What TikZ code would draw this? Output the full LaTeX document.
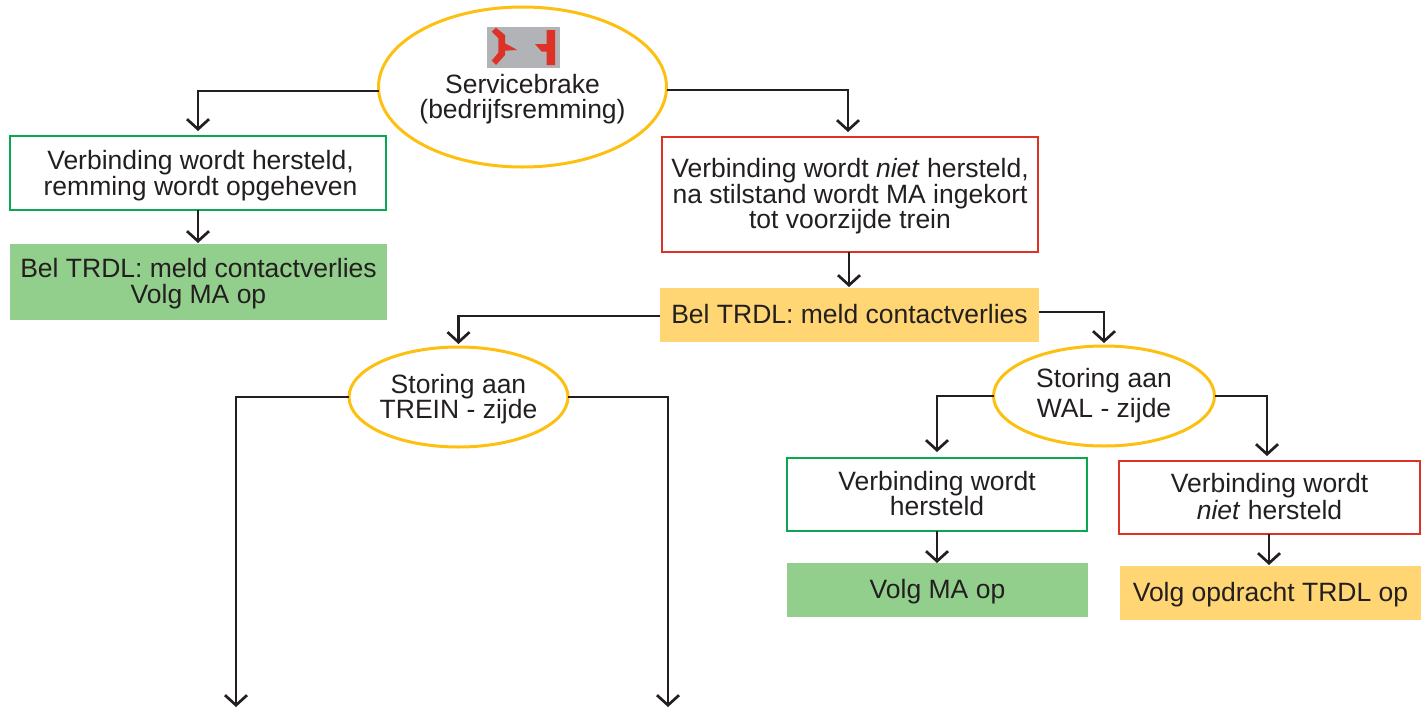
\documentclass[tikz,border=0pt]{standalone}
\usepackage{fontspec}
\setmainfont{Liberation Sans}
\usetikzlibrary{arrows.meta,shapes.geometric}
\definecolor{ink}{HTML}{231F20}
\definecolor{oval}{HTML}{FDC010}
\definecolor{redb}{HTML}{DF3226}
\definecolor{greenb}{HTML}{0BA650}
\definecolor{greenf}{HTML}{93CF8C}
\definecolor{yellowf}{HTML}{FFD673}
\definecolor{icongray}{HTML}{B1B3B6}
\newcommand{\dn}[2]{\raisebox{-#1pt}[\height][\depth]{#2}}
\tikzset{
  x=1pt,y=-1pt,
  every node/.style={text=ink,font=\fontsize{26.5}{25.5}\selectfont,align=center,inner sep=0pt,outer sep=0pt},
  conn/.style={draw=ink,line width=2.7pt,-{Straight Barb[length=10pt,width=22pt,line width=2.7pt]}},
  ovalnode/.style={ellipse,draw=oval,line width=3pt},
  redbox/.style={draw=redb,line width=2.8pt},
  greenbox/.style={draw=greenb,line width=2.8pt},
  greenfill/.style={fill=greenf},
  yellowfill/.style={fill=yellowf},
}
\begin{document}
\begin{tikzpicture}
\useasboundingbox (0,0) rectangle (1423,707);
% top oval
\node[ovalnode,minimum width=288pt,minimum height=160pt] (top) at (522.5,87) {};
\node (toplabel) at (522.5,99) {Servicebrake\\(bedrijfsremming)};
\fill[icongray] (487,27) rectangle (560,68);
\fill[redb] (491.7,31.7) -- (496,27.7) -- (505,35) -- (505,43.3) -- (517.3,50) -- (505,50.7) -- (505,55) -- (496,65) -- (491.7,60.7) -- (498.3,52.7) -- (498.3,38.3) -- cycle;
\fill[redb] (546.7,30) -- (555,30) -- (555,65) -- (546.7,65) -- (546.7,51.7) -- (541.7,51.7) -- (535,44) -- (546.7,44) -- cycle;
% left branch
\node[greenbox,minimum width=376pt,minimum height=74pt] (g1) at (198,173) {\dn{2.5}{\hspace*{5pt}Verbinding wordt hersteld,}\\\dn{2.5}{\hspace*{5pt}remming wordt opgeheven}};
\node[greenfill,minimum width=377pt,minimum height=76pt] (gf1) at (198.5,282) {\dn{1.5}{Bel TRDL: meld contactverlies}\\\dn{1.5}{Volg MA op}};
% right branch
\node[redbox,minimum width=376pt,minimum height=115pt] (r1) at (850,194.5) {\dn{2}{Verbinding wordt \textit{niet} hersteld,}\\\dn{2}{na stilstand wordt MA ingekort}\\\dn{2}{tot voorzijde trein}};
\node[yellowfill,minimum width=379pt,minimum height=54pt] (y1) at (849.5,315) {\dn{-1}{Bel TRDL: meld contactverlies}};
\node[ovalnode,inner xsep=-1.5pt,minimum width=219pt,minimum height=100pt] (trein) at (458.5,397) {\dn{2}{Storing aan}\\\dn{2}{TREIN - zijde}};
\node[ovalnode,minimum width=221pt,minimum height=100pt] (wal) at (1104,396) {Storing aan\\[4.5pt]WAL - zijde};
\node[greenbox,minimum width=300pt,minimum height=73pt] (g2) at (937,494.5) {\dn{-1}{Verbinding wordt}\\\dn{-1}{hersteld}};
\node[redbox,minimum width=301pt,minimum height=73pt] (r2) at (1269.5,497.5) {\dn{-1}{Verbinding wordt}\\[1.5pt]\dn{-1}{\textit{niet} hersteld}};
\node[greenfill,minimum width=301pt,minimum height=54pt] (gf2) at (937.5,590) {\dn{2}{Volg MA op}};
\node[yellowfill,minimum width=301pt,minimum height=54pt] (y2) at (1270.5,593) {\dn{2}{Volg opdracht TRDL op}};
\coordinate (endl) at (236,707);
\coordinate (endr) at (668,707);
% connectors
\draw[conn] ([yshift=-4pt]top.west) -| ([yshift=5pt]g1.north);
\draw[conn] ([yshift=-3pt]top.east) -| ([yshift=5pt,xshift=-2pt]r1.north);
\draw[conn] (g1.south) -- ([xshift=-0.5pt,yshift=1pt]gf1.north);
\draw[conn] ([xshift=-1pt]r1.south) -- ([xshift=-0.5pt,yshift=1pt]y1.north);
\draw[conn] ([yshift=-1pt]y1.west) -| ([yshift=3pt]trein.north);
\draw[conn] ([yshift=3pt]y1.east) -| ([yshift=3pt]wal.north);
\draw[conn] (trein.west) -| (endl);
\draw[conn] (trein.east) -| (endr);
\draw[conn] (wal.west) -| ([yshift=6pt]g2.north);
\draw[conn] (wal.east) -| ([yshift=5pt,xshift=-2.5pt]r2.north);
\draw[conn] (g2.south) -- ([xshift=-0.5pt]gf2.north);
\draw[conn] ([xshift=-0.5pt]r2.south) -- ([xshift=-1.5pt,yshift=1pt]y2.north);
\end{tikzpicture}
\end{document}
